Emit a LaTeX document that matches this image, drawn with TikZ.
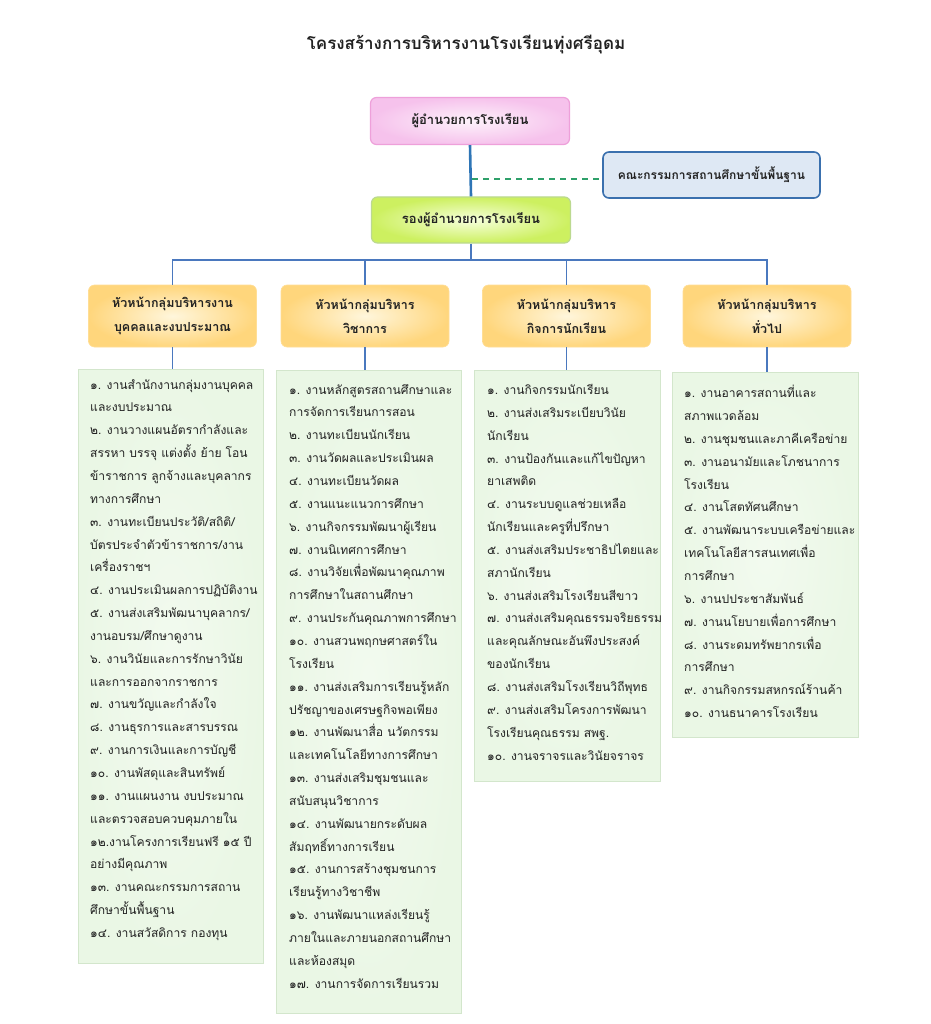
\documentclass[tikz,border=0pt]{standalone}
\usepackage{fontspec}
\setmainfont{Loma}[Script=Thai]
\definecolor{pinkedge}{HTML}{F6C2EC}
\definecolor{pinkmid}{HTML}{FDF2FB}
\definecolor{pinkline}{HTML}{EEA0DA}
\definecolor{limeedge}{HTML}{CDF060}
\definecolor{limemid}{HTML}{F6FFDC}
\definecolor{limeline}{HTML}{BCD990}
\definecolor{headedge}{HTML}{FFD67C}
\definecolor{headmid}{HTML}{FFF6DC}
\definecolor{listfill}{HTML}{EAF7E5}
\definecolor{listline}{HTML}{D3E6CC}
\definecolor{commfill}{HTML}{DEE8F4}
\definecolor{commline}{HTML}{3A70AE}
\definecolor{mainblue}{HTML}{2E75B6}
\definecolor{busblue}{HTML}{4A78BE}
\definecolor{dashgreen}{HTML}{2EA06A}
\definecolor{ink}{HTML}{222222}
\begin{document}
\begin{tikzpicture}[x=1pt,y=-1pt,
  every node/.style={text=ink},
  titlestyle/.style={font=\bfseries\fontsize{17}{20}\selectfont},
  boxstyle/.style={rounded corners=6pt, draw, line width=1.2pt, align=center,
    font=\bfseries\fontsize{13}{24}\selectfont},
  pinkbox/.style={boxstyle, draw=pinkline, inner color=pinkmid, outer color=pinkedge},
  limebox/.style={boxstyle, draw=limeline, inner color=limemid, outer color=limeedge},
  commbox/.style={boxstyle, draw=commline, line width=1.6pt, fill=commfill,
    font=\bfseries\fontsize{12}{24}\selectfont},
  headbox/.style={boxstyle, draw=headedge!80!white, line width=0.6pt, inner color=headmid, outer color=headedge,
    minimum width=168, minimum height=62, font=\bfseries\fontsize{12.5}{24}\selectfont},
  listbox/.style={draw=listline, line width=1pt, inner color=white!40!listfill, outer color=listfill},
  listtext/.style={anchor=north west, align=left, inner sep=0pt,
    font=\fontsize{12.1}{22.85}\selectfont},
  mainline/.style={draw=mainblue, line width=2.6pt},
  busline/.style={draw=busblue, line width=1.6pt},
  dashline/.style={draw=dashgreen, line width=1.4pt, dash pattern=on 6pt off 5pt}
]
\useasboundingbox (0,0) rectangle (930,1024);
\fill[white] (0,0) rectangle (930,1024);

\node[titlestyle] (title) at (466,45) {โครงสร้างการบริหารงานโรงเรียนทุ่งศรีอุดม};

\node[pinkbox, minimum width=199, minimum height=47] (dir) at (470,121) {ผู้อำนวยการโรงเรียน};
\node[commbox, minimum width=217, minimum height=46] (comm) at (711.5,175) {คณะกรรมการสถานศึกษาขั้นพื้นฐาน};
\node[limebox, minimum width=199, minimum height=46] (dep) at (471,220) {รองผู้อำนวยการโรงเรียน};

\draw[mainline] (dir.south) -- (dep.north);
\coordinate (dj) at (472,179);
\draw[dashline] (dj) -- (dj -| comm.west);

\node[headbox] (h1) at (172.5,316) {หัวหน้ากลุ่มบริหารงาน\\บุคคลและงบประมาณ};
\node[headbox] (h2) at (365,316) {หัวหน้ากลุ่มบริหาร\\วิชาการ};
\node[headbox] (h3) at (566.5,316) {หัวหน้ากลุ่มบริหาร\\กิจการนักเรียน};
\node[headbox] (h4) at (767,316) {หัวหน้ากลุ่มบริหาร\\ทั่วไป};

\coordinate (bus) at (471,260);
\draw[busline] (dep.south) -- (bus);
\draw[busline] (h1.north) |- (bus) -| (h4.north);
\draw[busline] (h2.north) -- (h2.north |- bus);
\draw[busline] (h3.north) -- (h3.north |- bus);

% list boxes
\node[listbox, minimum width=185, minimum height=594] (b1) at (170.5,666) {};
\node[listbox, minimum width=185, minimum height=643] (b2) at (368.5,691.5) {};
\node[listbox, minimum width=186, minimum height=411] (b3) at (567,575.5) {};
\node[listbox, minimum width=186, minimum height=365] (b4) at (765,554.5) {};

\draw[busline] (h1.south) -- (h1.south |- b1.north);
\draw[busline] (h2.south) -- (h2.south |- b2.north);
\draw[busline] (h3.south) -- (h3.south |- b3.north);
\draw[busline] (h4.south) -- (h4.south |- b4.north);

\node[listtext] (t1) at (90,379) {๑. งานสำนักงานกลุ่มงานบุคคล\\
และงบประมาณ\\
๒. งานวางแผนอัตรากำลังและ\\
สรรหา บรรจุ แต่งตั้ง ย้าย โอน\\
ข้าราชการ ลูกจ้างและบุคลากร\\
ทางการศึกษา\\
๓. งานทะเบียนประวัติ/สถิติ/\\
บัตรประจำตัวข้าราชการ/งาน\\
เครื่องราชฯ\\
๔. งานประเมินผลการปฏิบัติงาน\\
๕. งานส่งเสริมพัฒนาบุคลากร/\\
งานอบรม/ศึกษาดูงาน\\
๖. งานวินัยและการรักษาวินัย\\
และการออกจากราชการ\\
๗. งานขวัญและกำลังใจ\\
๘. งานธุรการและสารบรรณ\\
๙. งานการเงินและการบัญชี\\
๑๐. งานพัสดุและสินทรัพย์\\
๑๑. งานแผนงาน งบประมาณ\\
และตรวจสอบควบคุมภายใน\\
๑๒.งานโครงการเรียนฟรี ๑๕ ปี\\
อย่างมีคุณภาพ\\
๑๓. งานคณะกรรมการสถาน\\
ศึกษาขั้นพื้นฐาน\\
๑๔. งานสวัสดิการ กองทุน};

\node[listtext] (t2) at (289,384) {๑. งานหลักสูตรสถานศึกษาและ\\
การจัดการเรียนการสอน\\
๒. งานทะเบียนนักเรียน\\
๓. งานวัดผลและประเมินผล\\
๔. งานทะเบียนวัดผล\\
๕. งานแนะแนวการศึกษา\\
๖. งานกิจกรรมพัฒนาผู้เรียน\\
๗. งานนิเทศการศึกษา\\
๘. งานวิจัยเพื่อพัฒนาคุณภาพ\\
การศึกษาในสถานศึกษา\\
๙. งานประกันคุณภาพการศึกษา\\
๑๐. งานสวนพฤกษศาสตร์ใน\\
โรงเรียน\\
๑๑. งานส่งเสริมการเรียนรู้หลัก\\
ปรัชญาของเศรษฐกิจพอเพียง\\
๑๒. งานพัฒนาสื่อ นวัตกรรม\\
และเทคโนโลยีทางการศึกษา\\
๑๓. งานส่งเสริมชุมชนและ\\
สนับสนุนวิชาการ\\
๑๔. งานพัฒนายกระดับผล\\
สัมฤทธิ์ทางการเรียน\\
๑๕. งานการสร้างชุมชนการ\\
เรียนรู้ทางวิชาชีพ\\
๑๖. งานพัฒนาแหล่งเรียนรู้\\
ภายในและภายนอกสถานศึกษา\\
และห้องสมุด\\
๑๗. งานการจัดการเรียนรวม};

\node[listtext] (t3) at (487,384) {๑. งานกิจกรรมนักเรียน\\
๒. งานส่งเสริมระเบียบวินัย\\
นักเรียน\\
๓. งานป้องกันและแก้ไขปัญหา\\
ยาเสพติด\\
๔. งานระบบดูแลช่วยเหลือ\\
นักเรียนและครูที่ปรึกษา\\
๕. งานส่งเสริมประชาธิปไตยและ\\
สภานักเรียน\\
๖. งานส่งเสริมโรงเรียนสีขาว\\
๗. งานส่งเสริมคุณธรรมจริยธรรม\\
และคุณลักษณะอันพึงประสงค์\\
ของนักเรียน\\
๘. งานส่งเสริมโรงเรียนวิถีพุทธ\\
๙. งานส่งเสริมโครงการพัฒนา\\
โรงเรียนคุณธรรม สพฐ.\\
๑๐. งานจราจรและวินัยจราจร};

\node[listtext] (t4) at (684,385) {๑. งานอาคารสถานที่และ\\
สภาพแวดล้อม\\
๒. งานชุมชนและภาคีเครือข่าย\\
๓. งานอนามัยและโภชนาการ\\
โรงเรียน\\
๔. งานโสตทัศนศึกษา\\
๕. งานพัฒนาระบบเครือข่ายและ\\
เทคโนโลยีสารสนเทศเพื่อ\\
การศึกษา\\
๖. งานปประชาสัมพันธ์\\
๗. งานนโยบายเพื่อการศึกษา\\
๘. งานระดมทรัพยากรเพื่อ\\
การศึกษา\\
๙. งานกิจกรรมสหกรณ์ร้านค้า\\
๑๐. งานธนาคารโรงเรียน};
\end{tikzpicture}
\end{document}
